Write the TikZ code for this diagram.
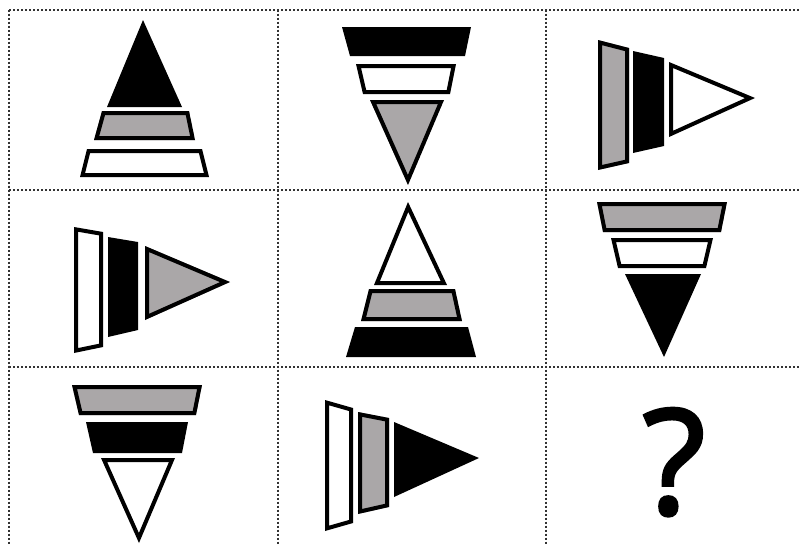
\documentclass[tikz,border=0pt]{standalone}
\usepackage{fontspec}
\newfontfamily\qfont[FakeBold=2.2]{Open Sans}
\usepackage{tikz}
\usetikzlibrary{positioning}

\definecolor{piecegray}{RGB}{170,167,168}

% outlined piece: border lies inside the outline
\newcommand{\framedpiece}[2]{%
  \begin{scope}
    \clip #2 -- cycle;
    \draw[line width=8pt, line join=miter, fill=#1] #2 -- cycle;
  \end{scope}}

\begin{document}
\begin{tikzpicture}[
  x=1pt, y=-1pt,
  gridline/.style={dotted, line width=2pt, black!80},
  solidpiece/.style={fill=black},
]
\useasboundingbox (0,0) rectangle (801,544);

% Grid
\foreach \gy in {9.5,190,367} \draw[gridline] (9,\gy) -- (801,\gy);
\foreach \gx in {9,278,546} \draw[gridline] (\gx,9.5) -- (\gx,544);

% Row 1
\fill[solidpiece] (143,20) -- (182,107) -- (107,107) -- cycle;
\framedpiece{piecegray}{(102,111) -- (189,111) -- (195,140) -- (94,140)}
\framedpiece{white}{(87,149) -- (202,149) -- (209,177) -- (80,177)}

\fill[solidpiece] (342,27) -- (471,27) -- (465,56) -- (350,56) -- cycle;
\framedpiece{white}{(356,64) -- (456,64) -- (450,94) -- (363,94)}
\framedpiece{piecegray}{(370,100) -- (444,100) -- (408,185)}

\framedpiece{piecegray}{(598,40) -- (629,48) -- (629,163) -- (598,170)}
\fill[solidpiece] (633,51) -- (664,58) -- (664,146) -- (633,153) -- cycle;
\framedpiece{white}{(669,62) -- (755,98) -- (669,137)}

% Row 2
\framedpiece{white}{(74,227) -- (103,232) -- (103,347) -- (74,353)}
\fill[solidpiece] (108,237) -- (138,242) -- (138,330) -- (108,337) -- cycle;
\framedpiece{piecegray}{(145,246) -- (230,282) -- (145,320)}

\framedpiece{white}{(408,202) -- (447,285) -- (374,285)}
\framedpiece{piecegray}{(369,289) -- (455,289) -- (462,321) -- (361,321)}
\fill[solidpiece] (355,327) -- (468,327) -- (476,357) -- (346,357) -- cycle;

\framedpiece{piecegray}{(597,202) -- (727,202) -- (721,232) -- (603,232)}
\framedpiece{white}{(611,238) -- (713,238) -- (706,268) -- (618,268)}
\fill[solidpiece] (625,274) -- (701,274) -- (664,357) -- cycle;

% Row 3
\framedpiece{piecegray}{(72,385) -- (202,385) -- (196,415) -- (79,415)}
\fill[solidpiece] (86,422) -- (188,422) -- (182,453) -- (93,453) -- cycle;
\framedpiece{white}{(101,458) -- (175,458) -- (139,543)}

\framedpiece{white}{(325,400) -- (353,408) -- (353,523) -- (325,531)}
\framedpiece{piecegray}{(358,412) -- (389,418) -- (389,507) -- (358,514)}
\fill[solidpiece] (394,422) -- (479,458) -- (394,497) -- cycle;

\node[anchor=base, inner sep=0pt, font=\qfont\fontsize{146}{148}\selectfont] (qmark) at (674,514) {?};
\end{tikzpicture}
\end{document}
